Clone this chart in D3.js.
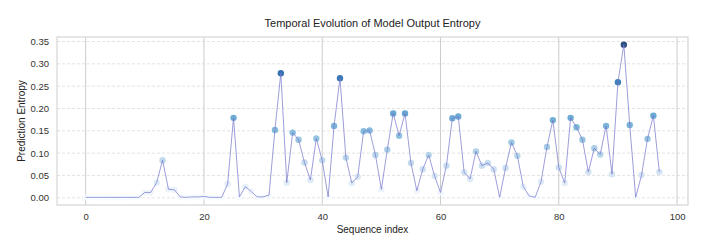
<!DOCTYPE html>
<html>
<head>
<meta charset="utf-8">
<script src="https://cdn.jsdelivr.net/npm/d3@7"></script>
<style>
  body { margin: 0; background: #fff; }
  text { font-family: "Liberation Sans", Arial, sans-serif; }
</style>
</head>
<body>
<script>
// entropy per sequence step
var entropy = [
  0.001, 0.001, 0.001, 0.001, 0.001, 0.001, 0.001, 0.001, 0.001, 0.001,
  0.012, 0.012, 0.034, 0.084, 0.019, 0.018, 0.002, 0.001, 0.002, 0.002,
  0.003, 0.001, 0.001, 0.001, 0.031, 0.179, 0.002, 0.025, 0.014, 0.002,
  0.002, 0.006, 0.152, 0.279, 0.034, 0.146, 0.130, 0.079, 0.040, 0.133,
  0.084, 0.002, 0.161, 0.268, 0.090, 0.033, 0.047, 0.149, 0.151, 0.096,
  0.019, 0.108, 0.189, 0.139, 0.189, 0.078, 0.016, 0.064, 0.096, 0.049,
  0.012, 0.072, 0.178, 0.182, 0.057, 0.042, 0.104, 0.072, 0.078, 0.064,
  0.001, 0.067, 0.124, 0.094, 0.025, 0.004, 0.001, 0.036, 0.114, 0.174,
  0.068, 0.033, 0.179, 0.158, 0.130, 0.058, 0.111, 0.097, 0.161, 0.053,
  0.259, 0.343, 0.163, 0.001, 0.051, 0.132, 0.184, 0.058
];
var xTicks = [0, 20, 40, 60, 80, 100];
var yTicks = [0, 0.05, 0.10, 0.15, 0.20, 0.25, 0.30, 0.35];

var margin = {top: 37, left: 57, right: 21, bottom: 38};
var width = 709 - margin.left - margin.right;
var height = 243 - margin.top - margin.bottom;

var svg = d3.select("body").append("svg")
  .attr("width", 709)
  .attr("height", 243);

var g = svg.append("g")
  .attr("transform", "translate(" + margin.left + "," + margin.top + ")");

var n = entropy.length;
var xPad = (n - 1) * 0.05;
var x = d3.scaleLinear()
  .domain([-xPad, n - 1 + xPad])
  .range([0, width]);

var ymin = d3.min(entropy), ymax = d3.max(entropy);
var yPad = (ymax - ymin) * 0.05;
var y = d3.scaleLinear()
  .domain([ymin - yPad, ymax + yPad])
  .range([height, 0]);

// slightly darker mid tones than plain Blues
var colorT = d3.scalePow().exponent(0.85).domain([ymin, ymax]).range([0, 1]);
function color(v) { return d3.interpolateBlues(colorT(v)); }

// grid
g.append("g").selectAll("line")
  .data(yTicks)
  .enter().append("line")
  .attr("x1", 0).attr("x2", width)
  .attr("y1", function(d) { return y(d); })
  .attr("y2", function(d) { return y(d); })
  .attr("stroke", "#dcdcdc")
  .attr("stroke-width", 0.8)
  .attr("stroke-dasharray", "3,2");

g.append("g").selectAll("line")
  .data(xTicks)
  .enter().append("line")
  .attr("y1", 0).attr("y2", height)
  .attr("x1", function(d) { return x(d); })
  .attr("x2", function(d) { return x(d); })
  .attr("stroke", "#cccccc")
  .attr("stroke-width", 1);

// frame
g.append("rect")
  .attr("width", width).attr("height", height)
  .attr("fill", "none")
  .attr("stroke", "#d6d6d6")
  .attr("stroke-width", 1.2);

// axes (labels only, no ticks)
var xAxis = g.append("g")
  .attr("transform", "translate(0," + height + ")")
  .call(d3.axisBottom(x).tickValues(xTicks).tickSize(0).tickPadding(8).tickFormat(d3.format("d")));
var yAxis = g.append("g")
  .call(d3.axisLeft(y).tickValues(yTicks).tickSize(0).tickPadding(8).tickFormat(d3.format(".2f")));
[xAxis, yAxis].forEach(function(a) {
  a.select(".domain").remove();
  a.selectAll("text").attr("fill", "#333").style("font-size", "9.5px");
});

// points
g.append("g").selectAll("circle")
  .data(entropy)
  .enter().append("circle")
  .attr("cx", function(d, i) { return x(i); })
  .attr("cy", function(d) { return y(d); })
  .attr("r", 3.2)
  .attr("fill", function(d) { return color(d); })
  .attr("fill-opacity", 0.85);

// line on top
var line = d3.line()
  .x(function(d, i) { return x(i); })
  .y(function(d) { return y(d); });

g.append("path")
  .datum(entropy)
  .attr("d", line)
  .attr("fill", "none")
  .attr("stroke", "#7777cc")
  .attr("stroke-opacity", 0.8)
  .attr("stroke-width", 0.9);

// titles
svg.append("text")
  .attr("x", margin.left + width / 2)
  .attr("y", 27)
  .attr("text-anchor", "middle")
  .style("font-size", "11px")
  .attr("fill", "#222")
  .text("Temporal Evolution of Model Output Entropy");

svg.append("text")
  .attr("x", margin.left + width / 2)
  .attr("y", 233)
  .attr("text-anchor", "middle")
  .style("font-size", "10px")
  .attr("fill", "#222")
  .text("Sequence index");

svg.append("text")
  .attr("transform", "translate(25," + (margin.top + height / 2) + ") rotate(-90)")
  .attr("text-anchor", "middle")
  .style("font-size", "10px")
  .attr("fill", "#222")
  .text("Prediction Entropy");
</script>
</body>
</html>
